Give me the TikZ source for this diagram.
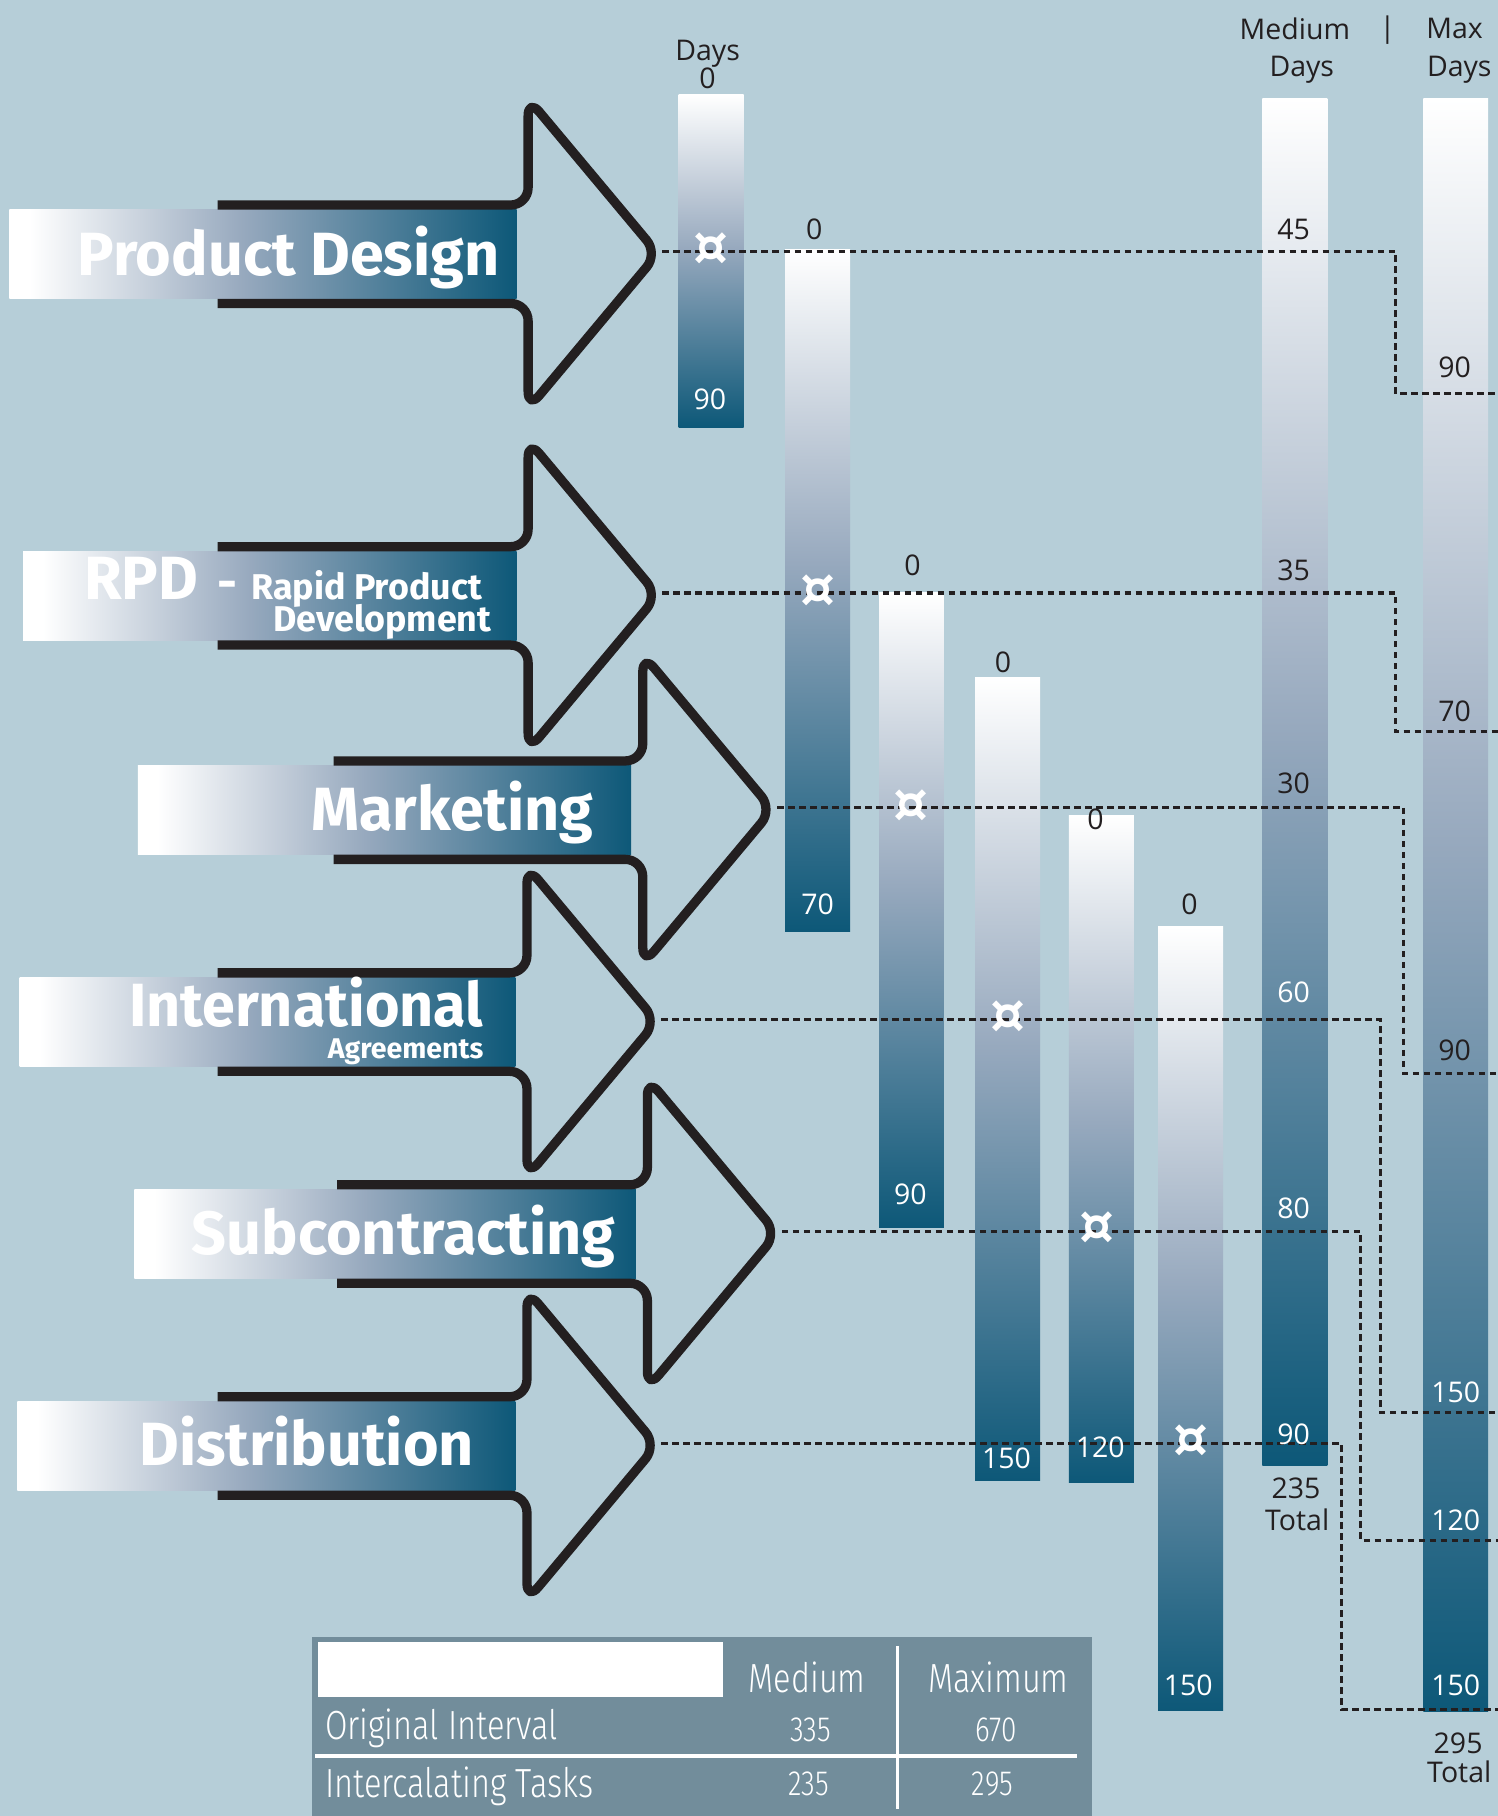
\documentclass[tikz,border=0pt]{standalone}
\usepackage{fontspec}
\setmainfont{Open Sans}
\newfontfamily\headfont{Fira Sans}
\newfontfamily\tabfont{Fira Sans Light}[FakeStretch=0.8]
\newfontfamily\symfont{DejaVu Sans}
\usepackage{xcolor}
\usetikzlibrary{calc}
\definecolor{paleblue}{HTML}{B6CED8}
\definecolor{deepteal}{HTML}{0D5878}
\definecolor{steelmid}{HTML}{97A9BE}
\definecolor{tablegray}{HTML}{728D9B}
\definecolor{inkblack}{HTML}{231F20}

\pgfdeclarehorizontalshading{tagfade}{100bp}{color(0bp)=(white); color(27bp)=(white);
  color(48bp)=(steelmid); color(75bp)=(deepteal); color(100bp)=(deepteal)}
\pgfdeclareverticalshading{barfade}{100bp}{color(0bp)=(deepteal); color(25bp)=(deepteal);
  color(52bp)=(steelmid); color(75bp)=(white); color(100bp)=(white)}

\begin{document}
\begin{tikzpicture}[x=0.1mm,y=-0.1mm,
  chevron/.style={draw=inkblack,line width=0.8mm,rounded corners=1.5mm,line join=round},
  tagtext/.style={text=white,inner sep=0pt,font=\headfont\bfseries\fontsize{15}{15}\selectfont},
  tagsub/.style={text=white,inner sep=0pt,font=\headfont\bfseries\fontsize{#1}{#1}\selectfont},
  numdark/.style={text=inkblack,inner sep=0pt,font=\fontsize{7}{8}\selectfont},
  numlight/.style={numdark,text=white},
  leader/.style={draw=inkblack,line width=0.26mm,dash pattern=on 0.55mm off 0.4mm},
  cursym/.style={text=white,inner sep=0pt,font=\symfont\bfseries\fontsize{13.5}{13.5}\selectfont},
  tabtext/.style={text=white,inner sep=0pt,font=\tabfont\fontsize{10}{10}\selectfont},
  tabnum/.style={text=white,inner sep=0pt,font=\tabfont\fontsize{8.6}{8.6}\selectfont}]
  \useasboundingbox (0,0) rectangle (1293,1568);
  \fill[paleblue] (0,0) rectangle (1293,1568);

  % day bars: centre x / top / bottom
  \foreach \xc/\ytop/\ybot in {614/82/369, 706/215/804, 787/512/1060, 870/585/1278,
      951/704/1280, 1028/800/1477, 1118/85/1265, 1257/85/1478}
    \shade[shading=barfade] (\xc-28,\ytop) rectangle (\xc+28,\ybot);

  % chevrons: label left / shaft left / label right / line y / bend x / drop y / name
  \foreach \xl/\xs/\xr/\yc/\xb/\yd/\nm in {8/188/446/217/1205/340/design,
      20/188/446/512/1205/632/rpd, 119/288/545/697/1212/927/market,
      17/188/445/880/1192/1220/intl, 116/291/549/1063/1175/1330/sub,
      15/188/445/1246/1158/1476/distr}{
    \shade[shading=tagfade] (\xl,\yc-36) rectangle (\xr,\yc+41);
    \draw[chevron] (\xs,\yc-40) -- (\xr+10,\yc-40) -- (\xr+10,\yc-132)
      -- (\xr+122,\yc+2) -- (\xr+10,\yc+136) -- (\xr+10,\yc+45) -- (\xs,\yc+45);
    \coordinate (\nm-tip) at (\xr+126,\yc);
    \coordinate (\nm-end) at (1293,\yd);
    \draw[leader] (\nm-tip) -| (\xb,\yd) -- (\nm-end);
  }

  % chevron labels
  \node[tagtext,anchor=base east] (design-lab) at (432,238) {Product Design};
  \node[tagtext,anchor=base west] (rpd-lab) at (72,518) {RPD};
  \node[tagsub=8.8,anchor=base east] (rpd-sub) at (417,518)
    {{\fontsize{12}{12}\selectfont -}\hspace{3.5pt}Rapid Product};
  \node[tagsub=8.8,anchor=base east] (rpd-dev) at (425,545) {Development};
  \node[tagtext,anchor=base east] (market-lab) at (513,717) {Marketing};
  \node[tagtext,anchor=base east,xscale=0.97] (intl-lab) at (418,886) {International};
  \node[tagsub=7,anchor=base east] (intl-sub) at (418,914) {Agreements};
  \node[tagtext,anchor=base east] (sub-lab) at (532,1083) {Subcontracting};
  \node[tagtext,anchor=base east] (distr-lab) at (410,1265) {Distribution};

  % currency marks where the lines cross the bars
  \foreach \xc/\yc [count=\i] in {614/215, 706/510, 787/696, 870/878, 947/1060, 1028/1244}
    \node[cursym] (cur\i) at (\xc,\yc) {¤};

  % bar starts and ends
  \node[numdark] (days-a) at (611,46) {Days};
  \node[numdark] (zero-a) at (611,68) {0};
  \foreach \xc/\yc [count=\i] in {703/198, 788/488, 866/572, 946/707, 1027/781}
    \node[numdark] (zero\i) at (\xc,\yc) {0};
  \foreach \xc/\yc/\t [count=\i] in {613/345/90, 706/781/70, 786/1031/90,
      869/1259/150, 950/1250/120, 1026/1455/150}
    \node[numlight] (end\i) at (\xc,\yc) {\t};

  % medium column
  \node[numdark] (med-head) at (1118,25) {Medium};
  \node[numdark] (sep-head) at (1198,26) {|};
  \node[numdark] (med-days) at (1124,60) {Days};
  \foreach \yc/\t [count=\i] in {198/45, 492/35, 676/30}
    \node[numdark] (med\i) at (1117,\yc) {\t};
  \foreach \yc/\t [count=\i from 4] in {857/60, 1043/80, 1238/90}
    \node[numlight] (med\i) at (1117,\yc) {\t};
  \node[numdark] (med-sum) at (1119,1285) {235};
  \node[numdark] (med-tot) at (1120,1312) {Total};

  % max column
  \node[numdark] (max-head) at (1256,25) {Max};
  \node[numdark] (max-days) at (1260,60) {Days};
  \foreach \yc/\t [count=\i] in {317/90, 614/70, 907/90}
    \node[numdark] (max\i) at (1256,\yc) {\t};
  \foreach \yc/\t [count=\i from 4] in {1202/150, 1313/120, 1455/150}
    \node[numlight] (max\i) at (1257,\yc) {\t};
  \node[numdark] (max-sum) at (1259,1505) {295};
  \node[numdark] (max-tot) at (1260,1530) {Total};

  % summary table
  \fill[tablegray] (269,1413) rectangle (943,1568);
  \fill[white] (275,1418) rectangle (624,1465);
  \draw[white,line width=0.3mm] (775,1421) -- (775,1562);
  \draw[white,line width=0.35mm] (272,1516) -- (930,1516);
  \node[tabtext] (th-med) at (697,1448) {Medium};
  \node[tabtext] (th-max) at (862,1448) {Maximum};
  \node[tabtext,anchor=base west] (row-orig) at (280,1502) {Original Interval};
  \node[tabnum] (orig-med) at (700,1494) {335};
  \node[tabnum] (orig-max) at (860,1494) {670};
  \node[tabtext,anchor=base west] (row-inter) at (280,1552) {Intercalating Tasks};
  \node[tabnum] (inter-med) at (698,1540) {235};
  \node[tabnum] (inter-max) at (857,1540) {295};
\end{tikzpicture}
\end{document}
